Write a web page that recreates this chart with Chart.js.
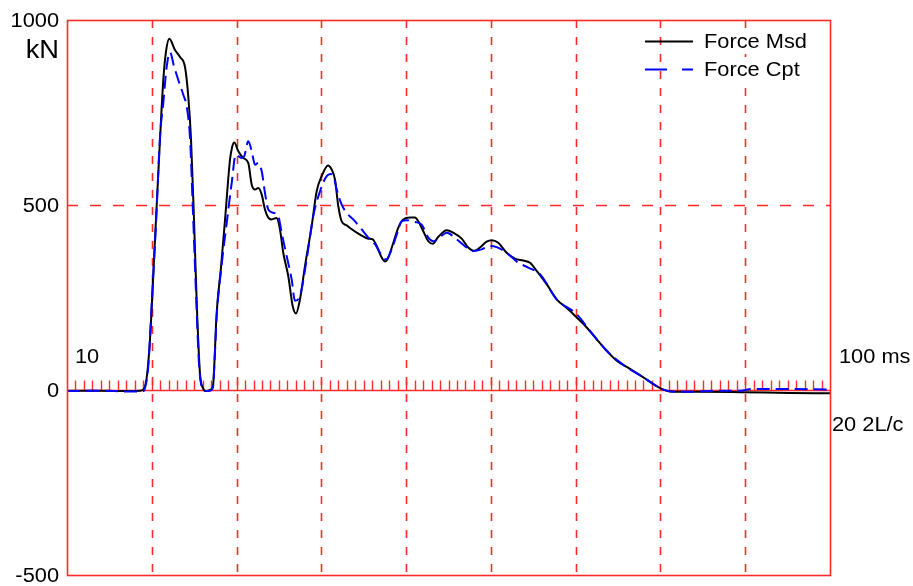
<!DOCTYPE html>
<html>
<head>
<meta charset="utf-8">
<title>Force Msd / Force Cpt</title>
<script src="https://cdn.jsdelivr.net/npm/chart.js@4/dist/chart.umd.min.js"></script>
<style>
  html, body { margin: 0; padding: 0; background: #fff; }
  #wrap { width: 913px; height: 586px; }
</style>
</head>
<body>
<div id="wrap"><canvas id="c" width="913" height="586"></canvas></div>
<script>
// Measured force (kN) against time (ms)
const timeMsd = [10.00, 13.89, 17.43, 18.61, 19.08, 19.44, 19.79, 20.38, 20.97, 21.36, 21.68, 22.07, 22.74, 23.33,
  23.92, 24.31, 24.63, 24.98, 25.33, 25.69, 26.04, 26.40, 26.87, 27.22, 27.40, 27.63, 28.16, 28.64, 29.23, 29.46,
  29.73, 30.21, 30.80, 31.38, 31.79, 32.18, 32.56, 32.97, 33.35, 33.74, 34.14, 34.73, 35.12, 35.51, 36.10, 36.62,
  37.01, 37.48, 38.07, 38.86, 39.45, 40.04, 40.79, 41.22, 41.61, 42.00, 42.40, 42.99, 43.38, 44.56, 45.54, 46.06,
  46.53, 47.12, 47.51, 47.90, 48.49, 49.08, 49.67, 50.46, 51.05, 51.44, 52.03, 52.62, 53.14, 53.80, 54.79, 55.57,
  56.56, 57.33, 58.01, 58.71, 59.50, 60.09, 60.87, 61.86, 62.84, 63.82, 64.61, 65.40, 66.58, 67.76, 69.13, 70.12,
  71.30, 72.48, 73.66, 74.84, 76.41, 77.98, 79.16, 80.15, 81.13, 82.31, 84.66, 89.38, 95.28, 100.00];
const forceMsd = [-2, -2, -3, -2, 3, 40, 137, 407, 677, 838, 915, 949, 919, 900,
  873, 792, 677, 461, 218, 43, 5, -3, 0, 10, 80, 200, 330, 460, 623, 655,
  669, 645, 627, 614, 555, 542, 546, 528, 488, 466, 461, 465, 434, 371, 308, 227,
  207, 245, 335, 443, 537, 578, 607, 596, 569, 497, 456, 445, 438, 420, 409, 407,
  389, 358, 347, 358, 398, 439, 461, 466, 466, 456, 429, 402, 395, 414, 432, 425,
  409, 385, 376, 385, 401, 405, 398, 371, 355, 350, 344, 322, 286, 245, 218, 196,
  169, 137, 106, 79, 57, 34, 16, 3, -4, -5, -5, -6, -8, -9];

// Computed force (kN) against time (ms)
const timeCpt = [10.00, 13.89, 17.43, 18.96, 19.20, 19.59, 20.03, 20.50, 20.97, 21.36, 21.74, 22.15, 22.62, 23.13,
  23.72, 24.12, 24.51, 24.86, 25.22, 25.57, 25.92, 26.40, 26.87, 27.22, 27.40, 27.63, 28.25, 28.84, 29.43, 29.90,
  30.21, 30.61, 30.91, 31.38, 31.79, 32.18, 32.56, 32.97, 33.35, 33.74, 34.33, 34.92, 35.32, 35.91, 36.50, 36.89,
  37.48, 38.27, 39.05, 39.84, 40.63, 41.10, 41.41, 41.81, 42.40, 43.18, 43.77, 44.76, 45.54, 46.33, 46.92, 47.63,
  48.30, 48.89, 49.48, 50.07, 51.05, 51.84, 52.62, 53.21, 54.00, 54.79, 55.97, 57.15, 57.92, 58.91, 59.89, 60.68,
  61.86, 63.23, 64.41, 65.79, 67.76, 70.12, 71.69, 73.66, 75.62, 77.98, 80.33, 81.80, 83.84, 86.20, 89.38, 90.91,
  94.45, 100.00];
const forceCpt = [-3, -2, -4, -3, 5, 65, 250, 450, 685, 776, 870, 913, 875, 838,
  798, 766, 681, 480, 260, 70, 8, -3, -2, 8, 75, 190, 340, 452, 560, 636,
  632, 627, 632, 672, 645, 609, 614, 591, 533, 488, 479, 470, 425, 362, 299, 241,
  254, 353, 470, 537, 578, 584, 580, 542, 501, 474, 461, 434, 412, 394, 371, 353,
  380, 420, 456, 459, 454, 447, 412, 402, 414, 425, 407, 385, 376, 380, 389, 386,
  371, 344, 331, 313, 245, 205, 160, 106, 68, 34, 1, -5, -5, -2, -2, 3,
  3, 1];

// Axis ranges, grid values and labels
const timeRange = [10, 100];
const forceRange = [-500, 1000];
const timeGrid = [20, 30, 40, 50, 60, 70, 80, 90];
const forceGrid = [500];
const forceTicks = [1000, 500, 0, -500];
const forceTickLabels = ['1000', '500', '0', '-500'];
const forceUnit = 'kN';
const startLabel = '10';
const endLabel = '100 ms';
const footLabel = '20 2L/c';
const seriesNames = ['Force Msd', 'Force Cpt'];

const RED = '#ff2b2b';
const FAMILY = '"Liberation Sans", Arial, sans-serif';
const STRETCH = 1.09;

function pts(xs, ys) { return xs.map((x, i) => ({ x: x, y: ys[i] })); }

function text(ctx, str, x, y, align, size) {
  ctx.save();
  ctx.font = (size || 20) + 'px ' + FAMILY;
  ctx.fillStyle = '#000';
  ctx.textBaseline = 'alphabetic';
  const w = ctx.measureText(str).width * STRETCH;
  let left = x;
  if (align === 'right') left = x - w;
  ctx.translate(left, y);
  ctx.scale(STRETCH, 1);
  ctx.textAlign = 'left';
  ctx.fillText(str, 0, 0);
  ctx.restore();
  return w;
}

const frame = {
  id: 'frame',
  beforeDatasetsDraw(chart) {
    const { ctx, chartArea: a, scales: { x, y } } = chart;
    ctx.save();
    ctx.strokeStyle = RED;
    ctx.lineWidth = 1.6;
    // vertical dashed grid
    ctx.setLineDash([8, 9]);
    timeGrid.forEach(v => {
      const px = Math.round(x.getPixelForValue(v)) + 0.5;
      ctx.beginPath(); ctx.moveTo(px, a.top); ctx.lineTo(px, a.bottom); ctx.stroke();
    });
    // horizontal dashed grid
    ctx.setLineDash([11, 12]);
    forceGrid.forEach(v => {
      const py = Math.round(y.getPixelForValue(v)) + 0.5;
      ctx.beginPath(); ctx.moveTo(a.left, py); ctx.lineTo(a.right, py); ctx.stroke();
    });
    // zero line with 1 ms ticks
    ctx.setLineDash([]);
    const y0 = Math.round(y.getPixelForValue(0)) + 0.5;
    ctx.lineWidth = 1.4;
    ctx.beginPath(); ctx.moveTo(a.left, y0); ctx.lineTo(a.right, y0); ctx.stroke();
    for (let t = timeRange[0] + 1; t < timeRange[1]; t++) {
      const px = Math.round(x.getPixelForValue(t)) + 0.5;
      ctx.beginPath(); ctx.moveTo(px, y0); ctx.lineTo(px, y0 - 10); ctx.stroke();
    }
    ctx.restore();
  },
  afterDraw(chart) {
    const { ctx, chartArea: a, scales: { x, y } } = chart;
    ctx.save();
    // plot border
    ctx.strokeStyle = RED;
    ctx.lineWidth = 1.6;
    ctx.strokeRect(a.left + 0.5, a.top + 0.5, a.right - a.left, a.bottom - a.top);

    // force labels
    forceTicks.forEach((v, i) => {
      text(ctx, forceTickLabels[i], a.left - 8, y.getPixelForValue(v) + 7, 'right', 20);
    });
    text(ctx, forceUnit, a.left - 8, y.getPixelForValue(1000) + 38, 'right', 25);

    // time labels
    const y0 = y.getPixelForValue(0);
    text(ctx, startLabel, a.left + 8, y0 - 27, 'left', 20);
    text(ctx, endLabel, a.right + 9, y0 - 27, 'left', 20);
    text(ctx, footLabel, a.right + 2, y0 + 41, 'left', 20);

    // legend
    const lx0 = 645, lx1 = 693, tx = 704;
    const rows = [
      { color: '#000', dash: [], ly: 41.5, ty: 48 },
      { color: '#0000ff', dash: [22, 15], ly: 69.5, ty: 76 }
    ];
    rows.forEach((r, i) => {
      ctx.fillStyle = '#fff';
      ctx.fillRect(tx - 2, r.ty - 19, 108, 25);
      ctx.strokeStyle = r.color;
      ctx.lineWidth = 2;
      ctx.setLineDash(r.dash);
      ctx.beginPath(); ctx.moveTo(lx0, r.ly); ctx.lineTo(lx1, r.ly); ctx.stroke();
      ctx.setLineDash([]);
      text(ctx, seriesNames[i], tx, r.ty, 'left', 20);
    });
    ctx.restore();
  }
};

new Chart(document.getElementById('c'), {
  type: 'line',
  data: {
    datasets: [
      {
        label: seriesNames[0],
        data: pts(timeMsd, forceMsd),
        borderColor: '#000',
        borderWidth: 2,
        pointRadius: 0,
        cubicInterpolationMode: 'monotone',
        order: 1
      },
      {
        label: seriesNames[1],
        data: pts(timeCpt, forceCpt),
        borderColor: '#0000ff',
        borderWidth: 2,
        borderDash: [13, 6],
        pointRadius: 0,
        cubicInterpolationMode: 'monotone',
        order: 0
      }
    ]
  },
  options: {
    responsive: false,
    devicePixelRatio: 1,
    animation: false,
    events: [],
    layout: { padding: { left: 67, top: 20, right: 83, bottom: 11 } },
    scales: {
      x: { type: 'linear', min: timeRange[0], max: timeRange[1], display: false },
      y: { type: 'linear', min: forceRange[0], max: forceRange[1], display: false }
    },
    plugins: { legend: { display: false }, tooltip: { enabled: false } }
  },
  plugins: [frame]
});
</script>
</body>
</html>
